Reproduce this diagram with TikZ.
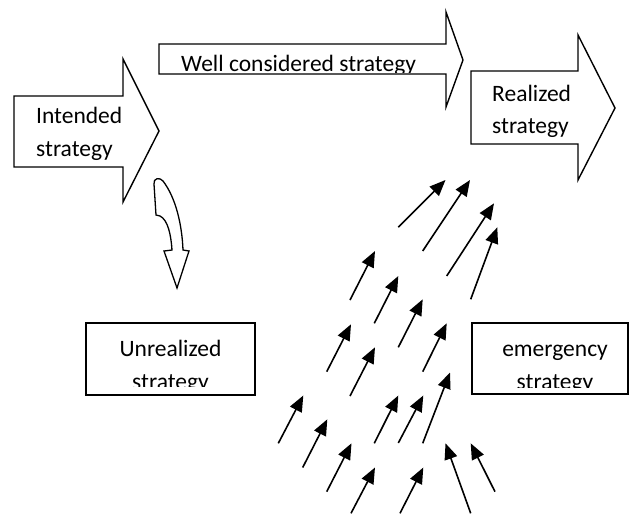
\documentclass[tikz,border=0pt]{standalone}
\usepackage{fontspec}
\setmainfont{Carlito}
\usetikzlibrary{arrows.meta}
\begin{document}
\begin{tikzpicture}[x=1pt,y=-1pt,
  outline/.style={draw=black,line width=1.4pt,line join=miter,fill=white},
  label/.style={inner sep=0pt,anchor=base west,font=\fontsize{23.5}{28}\selectfont},
  push/.style={line width=1.6pt,-{Triangle[length=16pt,width=13pt]}}]
\useasboundingbox (0,0) rectangle (629,514);

% block arrows
\draw[outline] (14,96) -- (123,96) -- (123,59) -- (159,131) -- (123,202)
  -- (123,167) -- (14,167) -- cycle;
\draw[outline] (159,44) -- (446,44) -- (446,12) -- (463,60) -- (446,107)
  -- (446,74) -- (159,74) -- cycle;
\draw[outline] (471,71) -- (578,71) -- (578,35) -- (615,108) -- (578,180)
  -- (578,144) -- (471,144) -- cycle;

\node[label] (intA) at (36,123) {Intended};
\node[label] (intB) at (36,156) {strategy};
\begin{scope}
  \clip (160,45) rectangle (445,72);
  \node[label] (well) at (181,71) {Well considered strategy};
\end{scope}
\node[label] (realA) at (492,101) {Realized};
\node[label] (realB) at (492,133) {strategy};

% curved downward arrow
\draw[outline,line width=1.3pt] (154,184) .. controls (153,178) and (160,177) .. (163,181)
  .. controls (176,198) and (182,225) .. (183,250)
  -- (189,251) -- (177,288) -- (164,251) -- (172,250)
  .. controls (171,235) and (168,220) .. (160,216)
  -- (156,215) -- cycle;

% boxes with clipped second lines
\draw[outline] (86,323) rectangle (255,395);
\begin{scope}
  \clip (88,325) rectangle (253,386);
  \node[label,anchor=base] (unreal) at (170.5,356) {Unrealized};
  \node[label,anchor=base] (unrealB) at (170.5,389) {strategy};
\end{scope}
\draw[outline] (472,323) rectangle (628,394);
\begin{scope}
  \clip (474,325) rectangle (626,387);
  \node[label,anchor=base] (emerg) at (555,356) {emergency};
  \node[label,anchor=base] (emergB) at (555,389) {strategy};
\end{scope}

% small arrows
\foreach \i/\tx/\ty/\hx/\hy in {
  1/398.3/227.3/445.5/180,
  2/422.7/251/470/180,
  3/446.7/276/494/203.3,
  4/470.7/299.3/497.3/227.3,
  5/350/300/375/251,
  6/374.3/323.3/398.3/276,
  7/398.3/347.3/422.7/299.3,
  8/422.7/371.7/446.7/323.3,
  9/326.7/371.7/351/324.3,
  10/350/396/375/347.3,
  11/278.3/443.3/303.3/395.5,
  12/302.7/467.5/327.3/419.3,
  13/326.7/491.7/351.5/443.3,
  14/351/513.3/375/467.5,
  15/374.3/443.3/398.3/395.5,
  16/398.3/443/423.3/395.5,
  17/422.7/443.3/450/372.5,
  18/400/513.3/423.3/467.5,
  19/470.7/513.3/445.5/443.3,
  20/495/491.7/470.7/443.3} {
  \coordinate (t\i) at (\tx,\ty);
  \coordinate (h\i) at (\hx,\hy);
  \draw[push] (t\i) -- (h\i);
}
\end{tikzpicture}
\end{document}
